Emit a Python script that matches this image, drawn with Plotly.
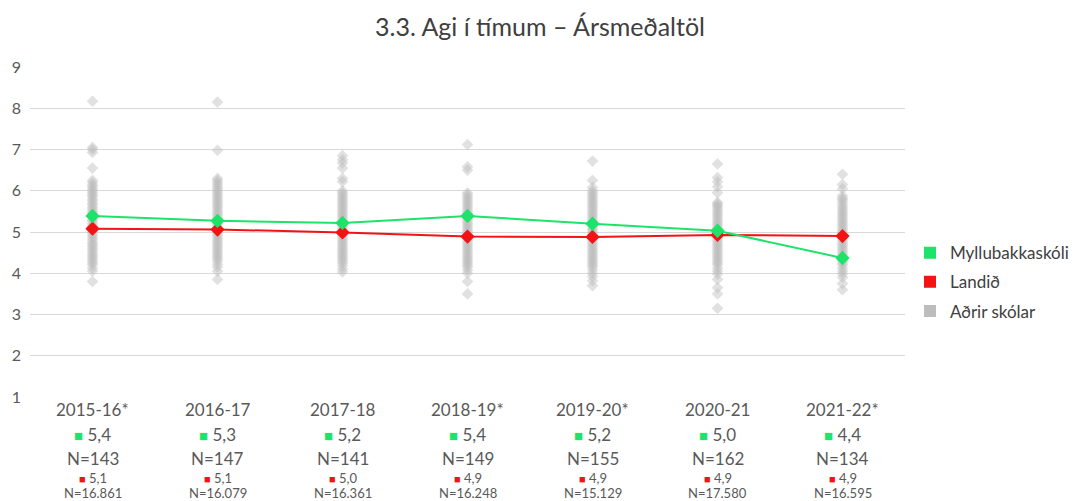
import plotly.graph_objects as go

categories = ["2015-16*", "2016-17", "2017-18", "2018-19*", "2019-20*", "2020-21", "2021-22*"]
school_values = [5.39, 5.27, 5.22, 5.39, 5.20, 5.03, 4.37]
country_values = [5.08, 5.06, 4.99, 4.89, 4.88, 4.93, 4.90]
school_n = [143, 147, 141, 149, 155, 162, 134]
country_n = [16861, 16079, 16361, 16248, 15129, 17580, 16595]
y_ticks = [1, 2, 3, 4, 5, 6, 7, 8, 9]

other_2015 = [8.17, 7.05, 7.0, 6.93, 6.55, 6.25, 6.2, 6.14, 6.1, 6.04, 6.0, 5.95, 5.9, 5.86, 5.8,
              5.76, 5.7, 5.66, 5.6, 5.55, 5.5, 5.46, 5.4, 5.35, 5.3, 5.26, 5.2, 5.15, 5.1, 5.05,
              5.0, 4.96, 4.9, 4.85, 4.8, 4.74, 4.7, 4.65, 4.6, 4.55, 4.5, 4.44, 4.4, 4.35, 4.3,
              4.25, 4.2, 4.12, 4.05, 3.8]
other_2016 = [8.15, 6.98, 6.3, 6.25, 6.2, 6.15, 6.1, 6.05, 6.0, 5.95, 5.9, 5.85, 5.8, 5.75, 5.7,
              5.65, 5.6, 5.55, 5.5, 5.45, 5.4, 5.35, 5.3, 5.25, 5.2, 5.15, 5.1, 5.05, 5.0, 4.95,
              4.9, 4.85, 4.8, 4.75, 4.7, 4.65, 4.6, 4.55, 4.5, 4.45, 4.4, 4.35, 4.3, 4.22, 4.15,
              4.05, 3.85]
other_2017 = [6.85, 6.75, 6.67, 6.55, 6.3, 6.22, 6.0, 5.95, 5.9, 5.85, 5.8, 5.75, 5.7, 5.65, 5.6,
              5.55, 5.5, 5.45, 5.4, 5.35, 5.3, 5.25, 5.2, 5.15, 5.1, 5.05, 5.0, 4.95, 4.9, 4.85,
              4.8, 4.75, 4.7, 4.65, 4.6, 4.55, 4.5, 4.45, 4.4, 4.35, 4.3, 4.25, 4.18, 4.1, 4.03]
other_2018 = [7.12, 6.58, 6.5, 5.95, 5.9, 5.85, 5.8, 5.75, 5.7, 5.65, 5.6, 5.55, 5.5, 5.45, 5.4,
              5.35, 5.3, 5.25, 5.2, 5.15, 5.1, 5.05, 5.0, 4.95, 4.9, 4.85, 4.8, 4.75, 4.7, 4.65,
              4.6, 4.55, 4.5, 4.45, 4.4, 4.35, 4.3, 4.25, 4.2, 4.15, 4.08, 4.0, 3.8, 3.5]
other_2019 = [6.72, 6.25, 6.08, 6.0, 5.95, 5.9, 5.85, 5.8, 5.75, 5.7, 5.65, 5.6, 5.55, 5.5, 5.45,
              5.4, 5.35, 5.3, 5.25, 5.2, 5.15, 5.1, 5.05, 5.0, 4.95, 4.9, 4.85, 4.8, 4.75, 4.7,
              4.65, 4.6, 4.55, 4.5, 4.45, 4.4, 4.35, 4.3, 4.25, 4.2, 4.15, 4.08, 4.0, 3.92, 3.82,
              3.7]
other_2020 = [6.65, 6.32, 6.22, 6.1, 5.95, 5.72, 5.68, 5.64, 5.6, 5.55, 5.5, 5.45, 5.4, 5.35, 5.3,
              5.25, 5.2, 5.15, 5.1, 5.05, 5.0, 4.95, 4.9, 4.85, 4.8, 4.75, 4.7, 4.65, 4.6, 4.55,
              4.5, 4.45, 4.4, 4.35, 4.3, 4.25, 4.2, 4.12, 4.05, 3.98, 3.85, 3.65, 3.5, 3.15]
other_2021 = [6.4, 6.15, 6.05, 5.88, 5.82, 5.78, 5.72, 5.66, 5.6, 5.55, 5.5, 5.45, 5.4, 5.35, 5.3,
              5.25, 5.2, 5.15, 5.1, 5.05, 5.0, 4.95, 4.9, 4.85, 4.8, 4.75, 4.7, 4.65, 4.6, 4.55,
              4.5, 4.45, 4.4, 4.35, 4.3, 4.25, 4.2, 4.12, 4.05, 3.98, 3.9, 3.75, 3.6]
other_schools = [other_2015, other_2016, other_2017, other_2018, other_2019, other_2020, other_2021]

GREEN = "#1ee36a"
RED = "#f21414"
GRAY = "#bdbdbd"
TEXT = "#595959"
FONT = "Lato"


def fmt_dec(v):
    return f"{v:.1f}".replace(".", ",")


def fmt_n(n):
    return "N=" + f"{n:,}".replace(",", ".")


fig = go.Figure()

ox, oy = [], []
for cat, vals in zip(categories, other_schools):
    ox += [cat] * len(vals)
    oy += vals
fig.add_trace(go.Scatter(
    x=ox, y=oy, mode="markers", showlegend=False, hoverinfo="y",
    marker=dict(symbol="diamond", size=9, color=GRAY, opacity=0.45, line=dict(width=0)),
))
fig.add_trace(go.Scatter(
    x=categories, y=country_values, mode="lines+markers", showlegend=False,
    line=dict(color=RED, width=2), marker=dict(symbol="diamond", size=11, color=RED),
))
fig.add_trace(go.Scatter(
    x=categories, y=school_values, mode="lines+markers", showlegend=False,
    line=dict(color=GREEN, width=2), marker=dict(symbol="diamond", size=11, color=GREEN),
))

for name, col, g in [("Myllubakkaskóli", GREEN, "a"), ("Landið", RED, "b"), ("Aðrir skólar", GRAY, "c")]:
    fig.add_trace(go.Scatter(
        x=[None], y=[None], mode="markers", name=name, legendgroup=g,
        marker=dict(symbol="square", size=9, color=col),
    ))

annotations = []
for i, cat in enumerate(categories):
    lines = [
        (cat, 17, 12),
        (f"<span style='color:{GREEN};font-size:15px'>■</span> {fmt_dec(school_values[i])}", 17, 37),
        (fmt_n(school_n[i]), 17, 61),
        (f"<span style='color:{RED};font-size:11px'>■</span> {fmt_dec(country_values[i])}", 13, 81),
        (fmt_n(country_n[i]), 13, 96),
    ]
    for text, size, shift in lines:
        annotations.append(dict(
            x=cat, xref="x", y=0, yref="paper", yanchor="middle", yshift=-shift,
            text=text, showarrow=False, font=dict(family=FONT, size=size, color=TEXT),
        ))

W, H = 1072, 493
fig.update_layout(
    width=W, height=H,
    margin=dict(l=22, r=175, t=59, b=104, autoexpand=False),
    paper_bgcolor="white", plot_bgcolor="white",
    title=dict(text="3.3. Agi í tímum – Ársmeðaltöl", x=532 / W, xref="container", xanchor="center",
               y=1 - 19 / H, yref="container", yanchor="middle",
               font=dict(family=FONT, size=25, color="#404040")),
    font=dict(family=FONT, color=TEXT),
    xaxis=dict(type="category", categoryorder="array", categoryarray=categories,
               range=[-0.5, len(categories) - 0.5], showgrid=False, showticklabels=False,
               zeroline=False, showline=False, automargin=False),
    yaxis=dict(range=[1, 9], tickvals=y_ticks, ticktext=[str(t) for t in y_ticks],
               showgrid=True, gridcolor="#d9d9d9", gridwidth=1, zeroline=False,
               showline=False, ticks="", ticklabelstandoff=8, automargin=False,
               tickfont=dict(family=FONT, size=16, color=TEXT)),
    legend=dict(x=(902 - 22) / 875, xanchor="left", y=0.348, yanchor="middle",
                font=dict(family=FONT, size=17, color="#404040"),
                traceorder="grouped", tracegroupgap=4, itemsizing="constant",
                bgcolor="rgba(0,0,0,0)"),
    annotations=annotations,
    hovermode="closest",
)

fig.write_html("out.html")
